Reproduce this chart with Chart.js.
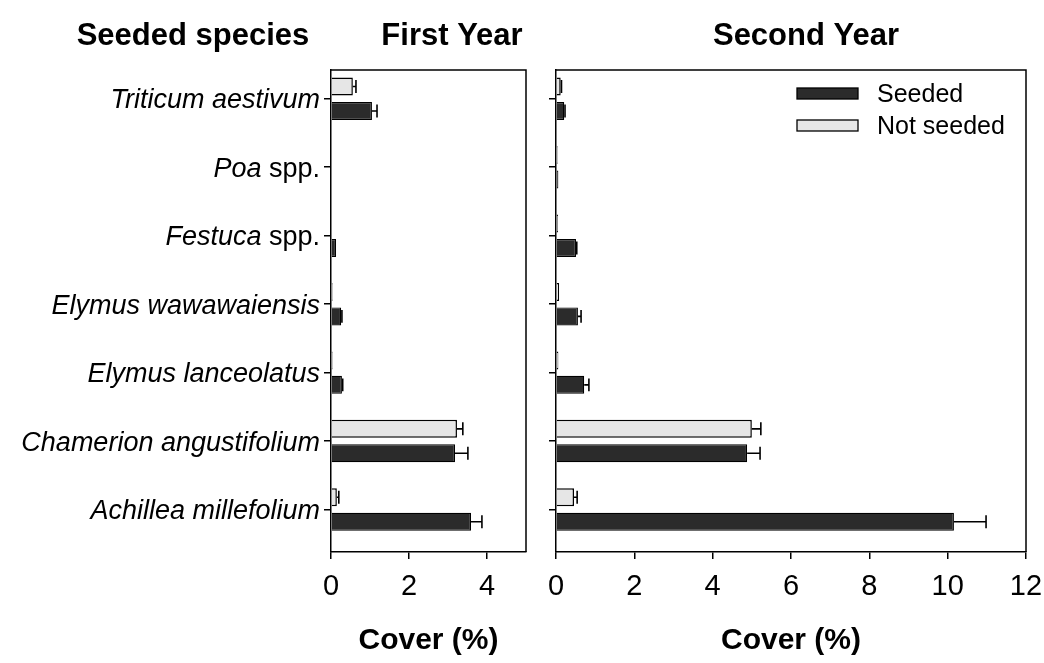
<!DOCTYPE html>
<html><head><meta charset="utf-8">
<script src="https://cdn.jsdelivr.net/npm/chart.js@4"></script>
<style>
html,body{margin:0;padding:0;background:#fff;width:1044px;height:663px;overflow:hidden}
#c1{position:absolute;left:0;top:0}
#c2{position:absolute;left:540px;top:0}
</style></head><body>
<canvas id="c1" width="540" height="663"></canvas>
<canvas id="c2" width="504" height="663"></canvas>
<script>
// ---- data ----
const categories = ["Triticum aestivum","Poa spp.","Festuca spp.","Elymus wawawaiensis","Elymus lanceolatus","Chamerion angustifolium","Achillea millefolium"];
const seriesNames = ["Seeded","Not seeded"];
const panelTitles = ["First Year","Second Year"];
const rowTitle = "Seeded species";
const axisTitle = "Cover (%)";

const firstSeeded       = [1.05, 0,    0.13, 0.26, 0.28, 3.18, 3.59];
const firstSeededErr    = [0.13, 0,    0,    0.02, 0.02, 0.33, 0.28];
const firstNotSeeded    = [0.56, 0,    0.02, 0.04, 0.04, 3.23, 0.15];
const firstNotSeededErr = [0.08, 0,    0,    0,    0,    0.15, 0.05];

const secondSeeded       = [0.21, 0.06, 0.51, 0.56, 0.72, 4.88, 10.16];
const secondSeededErr    = [0.02, 0,    0.02, 0.08, 0.12, 0.33, 0.82];
const secondNotSeeded    = [0.12, 0.04, 0.05, 0.08, 0.06, 5.00, 0.46];
const secondNotSeededErr = [0.02, 0,    0,    0,    0,    0.23, 0.08];

const leftTicks  = [0, 2, 4];
const rightTicks = [0, 2, 4, 6, 8, 10, 12];
const leftMax = 5, rightMax = 12;

// ---- style ----
const FONT = "'Liberation Sans', Arial, Helvetica, sans-serif";
const SEEDED_FILL = '#2b2b2b';
const NOT_FILL = '#e6e6e6';
Chart.defaults.font.family = FONT;
Chart.defaults.color = '#000';

function points(arr){ return arr.map((v,i)=>({x:v, y:i})); }

function makeChart(canvasId, opts){
  const errs = [opts.nsErr, opts.sErr];
  const decor = {
    id: 'decor',
    afterDatasetsDraw(chart){
      const ctx = chart.ctx, xs = chart.scales.x;
      ctx.save();
      ctx.strokeStyle = '#000'; ctx.lineWidth = 1.6;
      chart.data.datasets.forEach((ds, di)=>{
        const meta = chart.getDatasetMeta(di);
        errs[di].forEach((e, i)=>{
          if (!e) return;
          const bar = meta.data[i];
          const v = ds.data[i].x;
          const x0 = xs.getPixelForValue(v), x1 = xs.getPixelForValue(v + e);
          const y = bar.y, h = bar.height * 0.36;
          ctx.beginPath();
          ctx.moveTo(x0, y); ctx.lineTo(x1, y);
          ctx.moveTo(x1, y - h); ctx.lineTo(x1, y + h);
          ctx.stroke();
        });
      });
      ctx.restore();
    },
    afterDraw(chart){
      const ctx = chart.ctx, a = chart.chartArea, ys = chart.scales.y;
      ctx.save();
      // frame (top / right)
      ctx.strokeStyle = '#000'; ctx.lineWidth = 1.5;
      ctx.beginPath();
      ctx.moveTo(a.left, a.top); ctx.lineTo(a.right, a.top); ctx.lineTo(a.right, a.bottom);
      ctx.stroke();
      ctx.fillStyle = '#000';
      // titles
      ctx.textBaseline = 'alphabetic'; ctx.textAlign = 'center';
      ctx.font = `bold 31px ${FONT}`;
      opts.titles.forEach(t => ctx.fillText(t.text, t.x, 45));
      // category labels
      if (opts.labels){
        categories.forEach((c, i)=>{
          const y = ys.getPixelForValue(i) + 9.5;
          const parts = c.endsWith(' spp.') ? [[c.slice(0,-5),'italic'],[' spp.','normal']] : [[c,'italic']];
          let total = 0;
          parts.forEach(p=>{ ctx.font = `${p[1]} 27px ${FONT}`; p.w = ctx.measureText(p[0]).width; total += p.w; });
          let x = a.left - 11 - total;
          ctx.textAlign = 'left';
          parts.forEach(p=>{ ctx.font = `${p[1]} 27px ${FONT}`; ctx.fillText(p[0], x, y); x += p.w; });
        });
      }
      // legend
      if (opts.legend){
        const L = opts.legend;
        const order = [1, 0]; // Seeded first, then Not seeded
        order.forEach((di, k)=>{
          const ds = chart.data.datasets[di];
          const sy = L.y + k * 32;
          ctx.fillStyle = ds.backgroundColor;
          ctx.fillRect(L.x, sy, 61, 11);
          ctx.strokeStyle = '#000'; ctx.lineWidth = 1.3;
          ctx.strokeRect(L.x, sy, 61, 11);
          ctx.fillStyle = '#000';
          ctx.font = `25px ${FONT}`; ctx.textAlign = 'left';
          ctx.fillText(ds.label, L.x + 80, sy + 14);
        });
      }
      ctx.restore();
    }
  };

  return new Chart(document.getElementById(canvasId), {
    type: 'bar',
    data: {
      datasets: [
        { label: seriesNames[1], data: points(opts.ns), backgroundColor: NOT_FILL, borderColor: '#000', borderWidth: 1.5 },
        { label: seriesNames[0], data: points(opts.s),  backgroundColor: SEEDED_FILL, borderColor: '#000', borderWidth: 1.2 }
      ]
    },
    options: {
      responsive: false, animation: false, indexAxis: 'y',
      layout: { padding: { left: 0, right: opts.padRight, top: 70, bottom: 0 } },
      datasets: { bar: { categoryPercentage: 0.715, barPercentage: 0.735 } },
      plugins: { legend: { display: false }, tooltip: { enabled: false } },
      scales: {
        x: {
          type: 'linear', min: 0, max: opts.max,
          afterBuildTicks: s => { s.ticks = opts.ticks.map(v => ({ value: v })); },
          afterFit: s => { s.height = 111; s.paddingLeft = 0; s.paddingRight = 0; },
          grid: { display: true, drawOnChartArea: false, drawTicks: true, tickLength: 7, color: '#000', lineWidth: 1.5 },
          border: { display: true, color: '#000', width: 1.5 },
          ticks: { font: { size: 29 }, color: '#000', padding: 11, maxRotation: 0 },
          title: { display: true, text: axisTitle, font: { size: 30, weight: 'bold' }, color: '#000', padding: { top: 0, bottom: 4 } }
        },
        y: {
          type: 'linear', reverse: true, min: -0.42, max: 6.62, offset: false,
          afterBuildTicks: s => { s.ticks = categories.map((c, i) => ({ value: i })); },
          afterFit: s => { s.width = opts.yWidth; s.paddingTop = 0; s.paddingBottom = 0; },
          grid: { display: true, offset: false, drawOnChartArea: false, drawTicks: true, tickLength: 7, color: '#000', lineWidth: 1.5 },
          border: { display: true, color: '#000', width: 1.5 },
          ticks: { display: false }
        }
      }
    },
    plugins: [decor]
  });
}

makeChart('c1', {
  ns: firstNotSeeded, nsErr: firstNotSeededErr, s: firstSeeded, sErr: firstSeededErr,
  max: leftMax, ticks: leftTicks, padRight: 14, yWidth: 331, labels: true,
  titles: [{ text: rowTitle, x: 193 }, { text: panelTitles[0], x: 452 }]
});
makeChart('c2', {
  ns: secondNotSeeded, nsErr: secondNotSeededErr, s: secondSeeded, sErr: secondSeededErr,
  max: rightMax, ticks: rightTicks, padRight: 18, yWidth: 16, labels: false,
  titles: [{ text: panelTitles[1], x: 266 }],
  legend: { x: 257, y: 88 }
});
</script>
</body></html>
